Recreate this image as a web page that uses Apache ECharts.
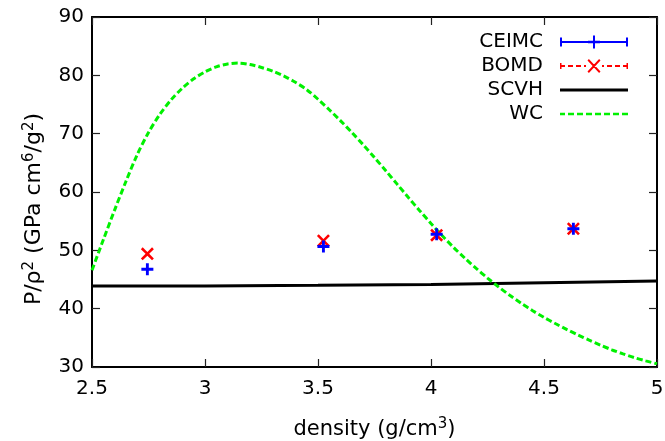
<!DOCTYPE html>
<html>
<head>
<meta charset="utf-8">
<script src="https://cdn.jsdelivr.net/npm/echarts@6/dist/echarts.min.js"></script>
<style>
html,body{margin:0;padding:0;background:#fff;}
#chart{width:665px;height:441px;}
</style>
</head>
<body>
<div id="chart"></div>
<script>
// ---- data ----
const pointDensity = [2.745, 3.524, 4.025, 4.63];
const ceimcValues = [46.75, 50.65, 52.75, 53.7];
const bomdValues = [49.4, 51.65, 52.6, 53.7];
const scvhDensity = [2.5, 3.0, 3.5, 4.0, 4.5, 5.0];
const scvhValues = [43.9, 43.9, 44.0, 44.15, 44.45, 44.75];
const wcDensity = [2.50, 2.55, 2.60, 2.65, 2.70, 2.75, 2.80, 2.85, 2.90, 2.95,
  3.00, 3.05, 3.10, 3.15, 3.20, 3.25, 3.30, 3.35, 3.40, 3.45,
  3.50, 3.55, 3.60, 3.65, 3.70, 3.75, 3.80, 3.85, 3.90, 3.95,
  4.00, 4.05, 4.10, 4.15, 4.20, 4.25, 4.30, 4.35, 4.40, 4.45,
  4.50, 4.55, 4.60, 4.65, 4.70, 4.75, 4.80, 4.85, 4.90, 4.95, 5.00];
const wcValues = [46.6, 51.8, 56.9, 61.8, 66.4, 70.2, 73.3, 75.8, 77.8, 79.4,
  80.6, 81.45, 81.95, 82.1, 81.85, 81.35, 80.7, 79.85, 78.8, 77.55,
  75.9, 74.1, 72.2, 70.2, 68.1, 65.9, 63.65, 61.35, 59.05, 56.8,
  54.6, 52.5, 50.5, 48.65, 46.9, 45.25, 43.7, 42.25, 40.9, 39.65,
  38.5, 37.45, 36.45, 35.5, 34.6, 33.75, 32.95, 32.25, 31.6, 31.05, 30.55];
const seriesNames = ['CEIMC', 'BOMD', 'SCVH', 'WC'];
const xTicks = {min: 2.5, max: 5, interval: 0.5};
const yTicks = {min: 30, max: 90, interval: 10};

const zip = (xs, ys) => xs.map((x, i) => [x, ys[i]]);
const FONT = 'DejaVu Sans';

const plusPath = 'path://M3.8,0H6.2V3.8H10V6.2H6.2V10H3.8V6.2H0V3.8H3.8Z';
const crossPath = 'path://M0,1.4L1.4,0L5,3.6L8.6,0L10,1.4L6.4,5L10,8.6L8.6,10L5,6.4L1.4,10L0,8.6L3.6,5Z';

// tiny corner dots keep every legend icon's box 68x14
const box = ' M0,0H0.01V0.01H0Z M67.99,13.99H68V14H67.99Z';
const ceimcIcon = 'path://M0,2.5H2V6H33V0.5H35V6H66V2.5H68V11.5H66V8H35V13.5H33V8H2V11.5H0Z M28,5.7H40V8.3H28Z' + box;
const bomdIcon = 'path://M0,4H1.5V6H5V8H1.5V10H0Z M8,6H13V8H8Z M16,6H21V8H16Z M24,6H26V8H24Z ' +
  'M27.5,1.4L28.9,0L40.5,12.6L39.1,14Z M39.1,0L40.5,1.4L28.9,14L27.5,12.6Z ' +
  'M42,6H44V8H42Z M47,6H52V8H47Z M55,6H60V8H55Z M63,6H66.5V4H68V10H66.5V8H63Z' + box;
const scvhIcon = 'path://M0,5.6H68V8.4H0Z' + box;
const wcIcon = 'path://M0,5.7H5V8.3H0Z M8,5.7H14V8.3H8Z M17,5.7H23V8.3H17Z M26,5.7H32V8.3H26Z ' +
  'M35,5.7H41V8.3H35Z M44,5.7H50V8.3H44Z M53,5.7H59V8.3H53Z M62,5.7H68V8.3H62Z' + box;

const tickStyle = {show: true, inside: true, length: 8, lineStyle: {color: '#222', width: 1.2}};
const lineStyle = {show: true, lineStyle: {color: '#000', width: 2}};
const labelStyle = {fontSize: 20, color: '#000', fontFamily: FONT};
const supStyle = {fontSize: 15, color: '#000', fontFamily: FONT, verticalAlign: 'top', lineHeight: 5};

const option = {
  backgroundColor: '#fff',
  animation: false,
  grid: {left: 92, right: 8, top: 17, bottom: 74, containLabel: false, outerBoundsMode: 'none'},
  legend: {
    orient: 'vertical',
    right: 37,
    top: 32,
    padding: 0,
    align: 'right',
    itemWidth: 68,
    itemHeight: 14,
    itemGap: 4,
    textStyle: {fontSize: 20, color: '#000', fontFamily: FONT, lineHeight: 20, padding: [0, 12, 0, 0]},
    data: [
      {name: seriesNames[0], icon: ceimcIcon},
      {name: seriesNames[1], icon: bomdIcon},
      {name: seriesNames[2], icon: scvhIcon},
      {name: seriesNames[3], icon: wcIcon}
    ]
  },
  xAxis: [{
    type: 'value', min: xTicks.min, max: xTicks.max, interval: xTicks.interval,
    axisLine: lineStyle, axisTick: tickStyle, splitLine: {show: false},
    axisLabel: Object.assign({margin: 12}, labelStyle),
    name: 'density (g/cm{sup|3})',
    nameLocation: 'middle', nameGap: 50,
    nameTextStyle: {fontSize: 21, lineHeight: 26, color: '#000', fontFamily: FONT, rich: {sup: supStyle}}
  }, {
    type: 'value', position: 'top', min: xTicks.min, max: xTicks.max, interval: xTicks.interval,
    axisLine: lineStyle, axisTick: tickStyle, splitLine: {show: false}, axisLabel: {show: false}
  }],
  yAxis: [{
    type: 'value', min: yTicks.min, max: yTicks.max, interval: yTicks.interval,
    axisLine: lineStyle, axisTick: tickStyle, splitLine: {show: false},
    axisLabel: Object.assign({margin: 8}, labelStyle),
    name: 'P/ρ{sup|2} (GPa cm{sup|6}/g{sup|2})',
    nameLocation: 'middle', nameGap: 44, nameRotate: 90,
    nameTextStyle: {fontSize: 22, lineHeight: 26, color: '#000', fontFamily: FONT, padding: [0, 34, 0, 0], rich: {sup: supStyle}}
  }, {
    type: 'value', position: 'right', min: yTicks.min, max: yTicks.max, interval: yTicks.interval,
    axisLine: lineStyle, axisTick: tickStyle, splitLine: {show: false}, axisLabel: {show: false}
  }],
  series: [
    {
      name: seriesNames[0], type: 'scatter', xAxisIndex: 0, yAxisIndex: 0,
      data: zip(pointDensity, ceimcValues),
      symbol: plusPath, symbolSize: 12, z: 5,
      itemStyle: {color: '#0000ff', opacity: 1}
    },
    {
      name: seriesNames[1], type: 'scatter', xAxisIndex: 0, yAxisIndex: 0,
      data: zip(pointDensity, bomdValues),
      symbol: crossPath, symbolSize: 13, z: 4,
      itemStyle: {color: '#ff0000', opacity: 1}
    },
    {
      name: seriesNames[2], type: 'line', xAxisIndex: 0, yAxisIndex: 0,
      data: zip(scvhDensity, scvhValues),
      symbol: 'none', smooth: false,
      lineStyle: {color: '#000', width: 3},
      itemStyle: {color: '#000'}
    },
    {
      name: seriesNames[3], type: 'line', xAxisIndex: 0, yAxisIndex: 0,
      data: zip(wcDensity, wcValues),
      symbol: 'none', smooth: 0.3,
      lineStyle: {color: '#00f000', width: 3, type: [6, 3]},
      itemStyle: {color: '#00f000'}
    }
  ]
};

const chart = echarts.init(document.getElementById('chart'), null, {renderer: 'canvas'});
chart.setOption(option);
</script>
</body>
</html>
